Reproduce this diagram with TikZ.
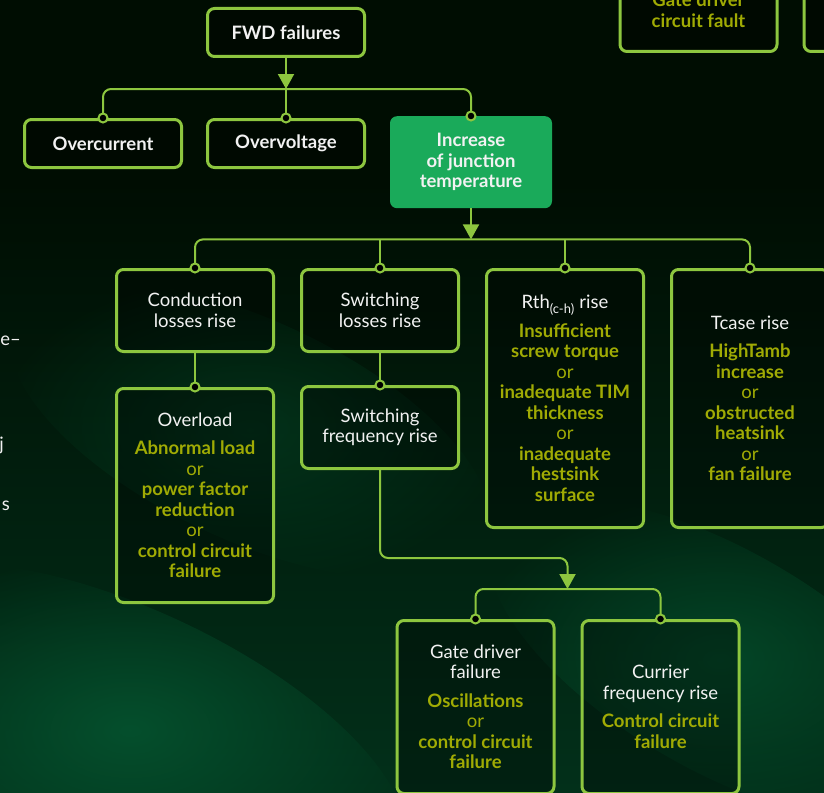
\documentclass[tikz,border=0pt]{standalone}
\usepackage{fontspec}
\setmainfont{Lato}
\usetikzlibrary{arrows.meta,positioning,fadings}

\definecolor{lnc}{HTML}{8DC63F}
\definecolor{hotbg}{HTML}{1AAA5A}
\definecolor{olv}{HTML}{A0AB04}
\definecolor{txt}{HTML}{F2F2F2}
\definecolor{bgA}{HTML}{000D02}
\definecolor{bgB}{HTML}{02301A}
\definecolor{bgC}{HTML}{05532F}

\tikzfading[name=softblob,inner color=transparent!0,outer color=transparent!100]

\newcommand{\fs}{\fontsize{18.5}{20.5}\selectfont}
\newcommand{\cz}[1]{\textcolor{olv}{\bfseries #1}}
\newcommand{\orr}{\textcolor{olv}{or}}

\tikzset{
 box/.style={draw=lnc,line width=3pt,rounded corners=7pt,fill=black,fill opacity=.3,
  text opacity=1,text=txt,align=center,font=\fs,minimum width=157pt,inner sep=2pt},
 sbox/.style={box,minimum height=48pt},
 mbox/.style={box,minimum height=82pt},
 tbox/.style={box,minimum height=258pt},
 obox/.style={box,minimum height=214pt},
 gbox/.style={box,minimum height=173pt},
 hot/.style={fill=hotbg,rounded corners=7pt,text=txt,align=center,font=\fs,
  minimum width=162pt,minimum height=92pt,inner sep=2pt},
 frag/.style={text=txt,font=\fs,inner sep=0pt},
 con/.style={draw=lnc,line width=2pt,rounded corners=8pt},
 dot/.style={draw=lnc,line width=2pt,fill=black},
 blob/.style={fill=bgC,path fading=softblob}
}

\begin{document}
\begin{tikzpicture}[x=1pt,y=-1pt,>={Triangle[width=16pt,length=15pt]}]
 \useasboundingbox (0,0) rectangle (824,792);
 \clip (0,0) rectangle (824,792);
 \fill[bgA] (0,0) rectangle (824,792);
 \shade[top color=bgA,bottom color=bgB] (0,180) rectangle (824,792);
 \fill[blob,fill opacity=.9,rotate around={-25:(130,730)}] (130,730) ellipse (300 and 120);
 \fill[blob,fill opacity=.7,rotate around={-30:(720,660)}] (720,660) ellipse (260 and 110);
 \fill[blob,fill opacity=.4,rotate around={-25:(250,430)}] (250,430) ellipse (260 and 110);

 \node[frag,anchor=base east] (fa) at (21,345) {e–};
 \node[frag,anchor=base east] (fb) at (4,450) {j};
 \node[frag,anchor=base east] (fc) at (10,510) {s};

 \node[box,anchor=south,minimum height=83pt] (gcf) at (698.5,53) {\cz{Gate driver}\\\cz{circuit fault}};
 \node[box,anchor=south,minimum height=83pt,right=24pt of gcf] (far) {};

 \node[sbox,anchor=north] (fwd) at (286,7) {\textbf{FWD failures}};
 \node[sbox,below=60pt of fwd] (ovv) {\textbf{Overvoltage}};
 \node[sbox,left=23pt of ovv] (occ) {\textbf{Overcurrent}};
 \node[hot,anchor=north] (inc) at (471,116) {\textbf{Increase}\\\textbf{of junction}\\\textbf{temperature}};

 \node[mbox,anchor=north] (cond) at (195,268) {Conduction\\losses rise};
 \node[mbox,right=25pt of cond] (swl) {Switching\\losses rise};
 \node[tbox,right=25pt of swl.north east,anchor=north west] (rth)
  {Rth\textsubscript{(c-h)} rise\\[8pt]\cz{Insufficient}\\\cz{screw torque}\\\orr\\\cz{inadequate TIM}\\
   \cz{thickness}\\\orr\\\cz{inadequate}\\\cz{hestsink}\\\cz{surface}};
 \node[tbox,right=25pt of rth] (tca)
  {Tcase rise\\[8pt]\cz{HighTamb}\\\cz{increase}\\\orr\\\cz{obstructed}\\\cz{heatsink}\\\orr\\\cz{fan failure}};

 \node[obox,below=34pt of cond] (ovl)
  {Overload\\[8pt]\cz{Abnormal load}\\\orr\\\cz{power factor}\\\cz{reduction}\\\orr\\\cz{control circuit}\\\cz{failure}};
 \node[mbox,below=32pt of swl] (swf) {Switching\\frequency rise};

 \node[gbox,anchor=north] (gdf) at (475.5,619)
  {Gate driver\\failure\\[8pt]\cz{Oscillations}\\\orr\\\cz{control circuit}\\\cz{failure}};
 \node[gbox,right=25pt of gdf] (cur)
  {Currier\\frequency rise\\[8pt]\cz{Control circuit}\\\cz{failure}};

 \path (fwd.south) ++(0,31) coordinate (j1);
 \path (inc.south) ++(0,31) coordinate (j2);
 \path (gdf.north) ++(92,-30) coordinate (j3);

 \draw[con,->] (fwd) -- (j1);
 \draw[con] (occ.north) |- (j1) -| (inc.north);
 \draw[con] (j1) -- (ovv.north);

 \draw[con,->] (inc) -- (j2);
 \draw[con] (cond.north) |- (j2) -| (tca.north);
 \draw[con] (swl.north) -- (swl.north |- j2)
  (rth.north) -- (rth.north |- j2);

 \draw[con] (cond) -- (ovl)
  (swl) -- (swf);

 \draw[con,->] (swf.south) |- ([yshift=31pt]j3) -- (j3);
 \draw[con] (gdf.north) |- (j3) -| (cur.north);

 \path[dot] (occ.north) circle (4.5pt) (ovv.north) circle (4.5pt) (inc.north) circle (4.5pt)
  (cond.north) circle (4.5pt) (swl.north) circle (4.5pt) (rth.north) circle (4.5pt)
  (tca.north) circle (4.5pt) (ovl.north) circle (4.5pt) (swf.north) circle (4.5pt)
  (gdf.north) circle (4.5pt) (cur.north) circle (4.5pt);
\end{tikzpicture}
\end{document}
